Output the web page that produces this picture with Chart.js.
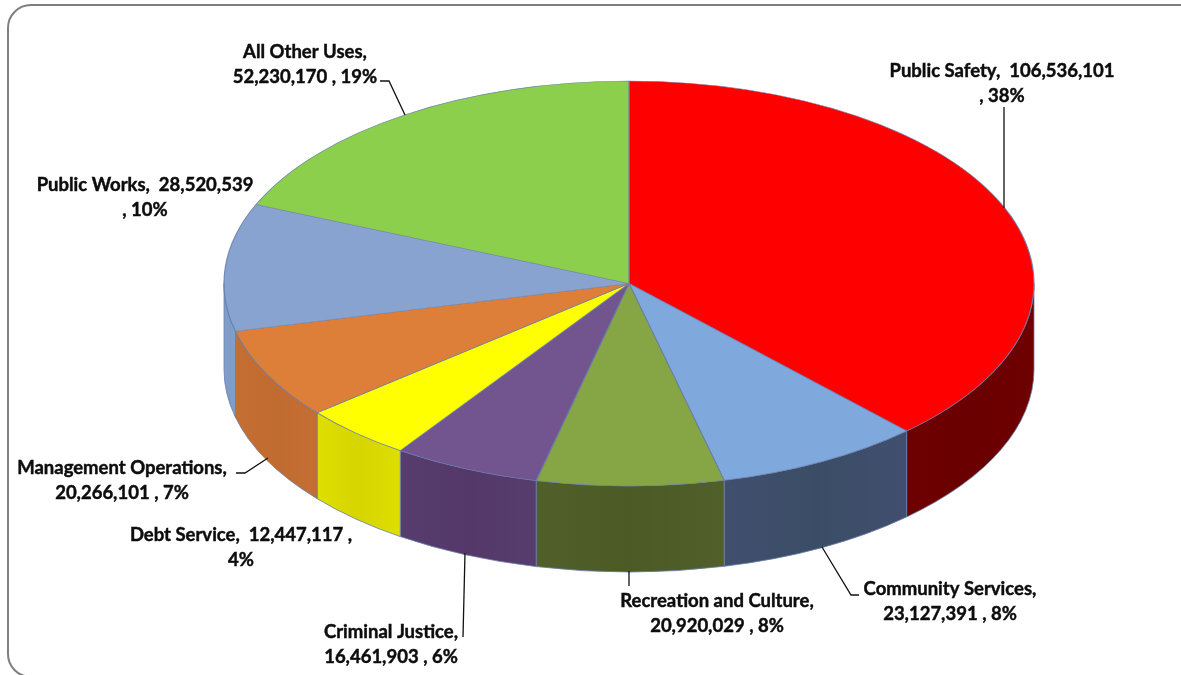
<!DOCTYPE html>
<html>
<head>
<meta charset="utf-8">
<title>Uses of Funds</title>
<script src="https://cdn.jsdelivr.net/npm/chart.js@4"></script>
<style>
  html, body { margin: 0; height: 100%; background: #fff; overflow: hidden; }
  #frame {
    position: absolute; left: 7px; top: 4px; width: 1300px; height: 670px;
    border: 2px solid #7f7f7f; border-radius: 24px;
  }
  #wrap { position: absolute; left: 0; top: 0; width: 1181px; height: 675px; }
</style>
</head>
<body>
<div id="frame"></div>
<div id="wrap"><canvas id="usesChart" width="1181" height="675"></canvas></div>
<script>
const categories = [
  "Public Safety", "Community Services", "Recreation and Culture", "Criminal Justice",
  "Debt Service", "Management Operations", "Public Works", "All Other Uses",
];
const amounts = [106536101, 23127391, 20920029, 16461903, 12447117, 20266101, 28520539, 52230170];
const percents = [38, 8, 8, 6, 4, 7, 10, 19];

const topColors = ["#ff0000", "#7fa8dd", "#86a544", "#72558f", "#ffff00", "#dd7f38", "#88a3cf", "#8ccf4d"];
const wallColors = ["#6a0000", "#3b4d66", "#4c5a26", "#533869", "#d6d600", "#c06b30", "#7f9bc8", "#6b9c3a"];
const wallEdgeColors = ["#6e0000", "#414f6e", "#515f2a", "#573c6e", "#dede00", "#c56e33", "#82a0cc", "#75a843"];

// drawn ellipse of the pie's top face and the height of its side wall
const PIE = { cx: 629, cy: 283.5, rx: 405, ry: 202.5, depth: 86 };

// label placement: centre of the first line, where the text wraps, leader polyline
const labelLayout = [
  { x: 1002, y: 71, wrap: "amount", leader: [[1004, 107], [1004, 208]] },
  { x: 950, y: 589, wrap: "name", leader: [[859, 595], [851, 595], [822, 547]] },
  { x: 717, y: 601, wrap: "name", leader: [[629, 586], [629, 571]] },
  { x: 391, y: 632, wrap: "name", leader: [[463, 637], [465, 553]] },
  { x: 241, y: 535, wrap: "percent", leader: null },
  { x: 122, y: 468, wrap: "name", leader: [[236, 473], [245, 473], [268, 458]] },
  { x: 145, y: 185, wrap: "amount", leader: null },
  { x: 305, y: 52, wrap: "name", leader: [[380, 81], [389, 81], [405, 115]] },
];

function labelLines(i) {
  const name = categories[i] + ",";
  const amount = amounts[i].toLocaleString("en-US");
  const pct = percents[i] + "%";
  const wrap = labelLayout[i].wrap;
  if (wrap === "amount") return [`${name}  ${amount}`, `, ${pct}`];
  if (wrap === "percent") return [`${name}  ${amount} ,`, pct];
  return [name, `${amount} , ${pct}`];
}

// side wall of one slice, only the part that faces the viewer
function drawWall(ctx, arc, index) {
  const a = Math.max(arc.startAngle, 0);
  const b = Math.min(arc.endAngle, Math.PI);
  if (b <= a) return;
  const { cx, cy, rx, ry, depth } = PIE;
  const x0 = cx + rx * Math.cos(a);
  const x1 = cx + rx * Math.cos(b);
  const shade = ctx.createLinearGradient(x0, 0, x1, 0);
  shade.addColorStop(0, wallEdgeColors[index]);
  shade.addColorStop(0.5, wallColors[index]);
  shade.addColorStop(1, wallEdgeColors[index]);
  ctx.beginPath();
  ctx.ellipse(cx, cy, rx, ry, 0, a, b, false);
  ctx.ellipse(cx, cy + depth, rx, ry, 0, b, a, true);
  ctx.closePath();
  ctx.fillStyle = shade;
  ctx.fill();
  ctx.strokeStyle = "rgba(105,125,170,0.8)";
  ctx.lineWidth = 1;
  ctx.stroke();
}

const tiltedPie = {
  id: "tiltedPie",
  beforeDatasetsDraw(chart) {
    const ctx = chart.ctx;
    const arcs = chart.getDatasetMeta(0).data;
    ctx.save();
    arcs.forEach((arc, i) => drawWall(ctx, arc, i));
    // squash the round pie into the top face
    const { x, y, outerRadius } = arcs[0];
    ctx.translate(PIE.cx, PIE.cy);
    ctx.scale(PIE.rx / outerRadius, PIE.ry / outerRadius);
    ctx.translate(-x, -y);
  },
  afterDatasetsDraw(chart) {
    chart.ctx.restore();
  },
};

const sliceLabels = {
  id: "sliceLabels",
  afterDraw(chart) {
    const ctx = chart.ctx;
    ctx.save();
    ctx.strokeStyle = "#111";
    ctx.lineWidth = 1.3;
    labelLayout.forEach((item) => {
      if (!item.leader) return;
      ctx.beginPath();
      item.leader.forEach(([x, y], i) => (i ? ctx.lineTo(x, y) : ctx.moveTo(x, y)));
      ctx.stroke();
    });
    ctx.fillStyle = "#0d0d0d";
    ctx.strokeStyle = "#0d0d0d";
    ctx.lineWidth = 0.45;
    ctx.font = "bold 18.5px Lato, 'Open Sans', sans-serif";
    ctx.textAlign = "center";
    ctx.textBaseline = "middle";
    labelLayout.forEach((item, i) => {
      labelLines(i).forEach((line, n) => {
        ctx.fillText(line, item.x, item.y + n * 25.5);
        ctx.strokeText(line, item.x, item.y + n * 25.5);
      });
    });
    ctx.restore();
  },
};

new Chart(document.getElementById("usesChart"), {
  type: "pie",
  data: {
    labels: categories,
    datasets: [{
      data: amounts,
      backgroundColor: topColors,
      borderColor: "rgba(105,125,170,0.85)",
      borderWidth: 1,
    }],
  },
  options: {
    responsive: false,
    animation: false,
    rotation: 0,
    layout: { padding: 0 },
    plugins: { legend: { display: false }, tooltip: { enabled: false } },
  },
  plugins: [tiltedPie, sliceLabels],
});
</script>
</body>
</html>
